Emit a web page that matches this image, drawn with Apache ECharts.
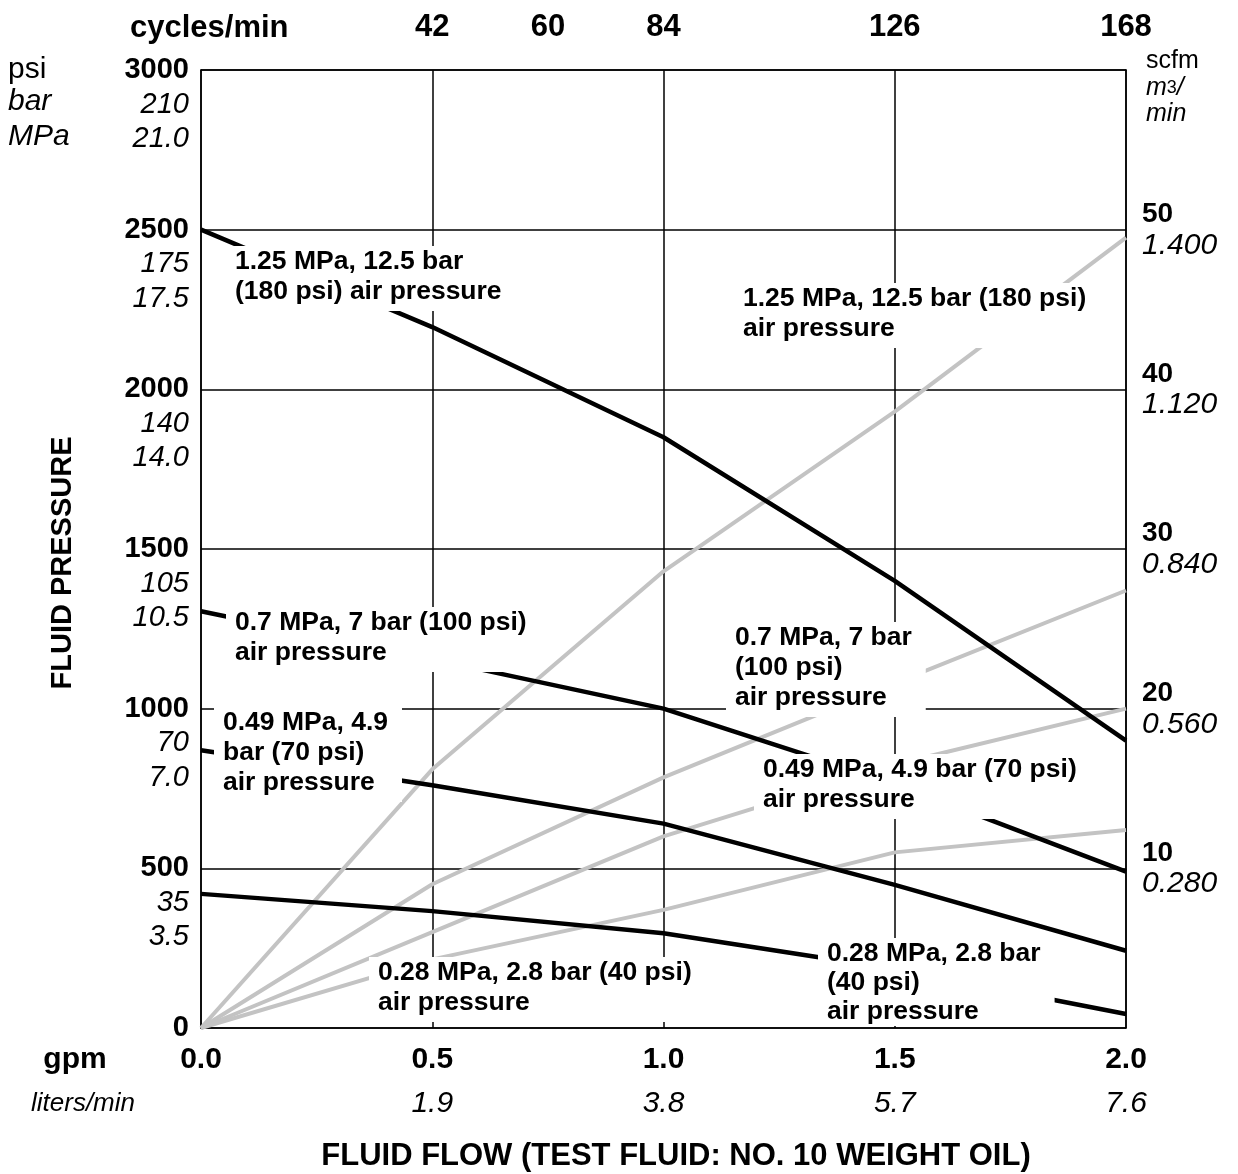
<!DOCTYPE html>
<html>
<head>
<meta charset="utf-8">
<script src="https://cdn.jsdelivr.net/npm/echarts@6/dist/echarts.min.js"></script>
<style>
  html, body { margin: 0; padding: 0; background: #fff; }
  #chart { width: 1238px; height: 1174px; }
</style>
</head>
<body>
<div id="chart"></div>
<script>
// ---------- data ----------
const gpm = [0, 0.5, 1.0, 1.5, 2.0];

// fluid pressure (psi) at each flow, per air pressure
const pressure180 = [2500, 2195, 1850, 1400, 900];
const pressure100 = [1305, 1155, 1000, 765, 490];
const pressure70  = [870, 760, 640, 448, 242];
const pressure40  = [420, 366, 297, 185, 44];

// air consumption (scfm) at each flow, per air pressure
const air180 = [0, 16.2, 28.6, 38.6, 49.5];
const air100 = [0, 9.0, 15.7, 21.6, 27.4];
const air70  = [0, 6.0, 12.0, 16.5, 20.0];
const air40  = [0, 4.3, 7.4, 11.0, 12.4];

// tick labels
const psiTicks   = [0, 500, 1000, 1500, 2000, 2500, 3000];
const barLabels  = ['', '35', '70', '105', '140', '175', '210'];
const mpaLabels  = ['', '3.5', '7.0', '10.5', '14.0', '17.5', '21.0'];
const gpmLabels  = ['0.0', '0.5', '1.0', '1.5', '2.0'];
const litersLabels = ['', '1.9', '3.8', '5.7', '7.6'];
const scfmTicks  = [10, 20, 30, 40, 50];
const m3Labels   = ['0.280', '0.560', '0.840', '1.120', '1.400'];
const cycleTickGpm    = [0.5, 0.75, 1.0, 1.5, 2.0];
const cycleTickLabels = ['42', '60', '84', '126', '168'];

// annotation texts
const annotations = [
  { text: '1.25 MPa, 12.5 bar\n(180 psi) air pressure', x: 235, y: 252 },
  { text: '1.25 MPa, 12.5 bar (180 psi)\nair pressure', x: 743, y: 289 },
  { text: '0.7 MPa, 7 bar (100 psi)\nair pressure', x: 235, y: 613 },
  { text: '0.7 MPa, 7 bar\n(100 psi)\nair pressure', x: 735, y: 628 },
  { text: '0.49 MPa, 4.9\nbar (70 psi)\nair pressure', x: 223, y: 713 },
  { text: '0.49 MPa, 4.9 bar (70 psi)\nair pressure', x: 763, y: 760 },
  { text: '0.28 MPa, 2.8 bar (40 psi)\nair pressure', x: 378, y: 963 },
  { text: '0.28 MPa, 2.8 bar\n(40 psi)\nair pressure', x: 827, y: 946, lh: 29, pb: 0, dy: -2 }
];

// ---------- chart ----------
const FONT = '"Liberation Sans", Arial, Helvetica, sans-serif';
const chart = echarts.init(document.getElementById('chart'), null, { renderer: 'canvas' });

function pair(xs, ys) { return xs.map((x, i) => [x, ys[i]]); }
function idxOf(arr, v) { return arr.findIndex(a => Math.abs(a - v) < 1e-6); }

const gridLine = { show: true, lineStyle: { color: '#000', width: 1.5 } };
const axisLine = { show: true, onZero: false, lineStyle: { color: '#000', width: 1.5 } };

const grayStyle  = { color: '#c3c3c3', width: 4 };
const blackStyle = { color: '#000', width: 4.5 };

function lineSeries(name, data, yIdx, style, z) {
  return {
    name, type: 'line', xAxisIndex: 0, yAxisIndex: yIdx,
    data: pair(gpm, data), symbol: 'none', smooth: false,
    lineStyle: style, z: z, silent: true
  };
}

const graphics = [];
annotations.forEach(a => {
  graphics.push({
    type: 'text', x: a.x - 9, y: a.y - 6 + (a.dy || 0), z: 100,
    style: {
      text: a.text, font: 'bold 26.5px ' + FONT, fill: '#000',
      backgroundColor: '#fff', padding: [1, 14, (a.pb === undefined ? 4 : a.pb), 9],
      lineHeight: a.lh || 30, align: 'left', verticalAlign: 'top'
    }
  });
});
function label(text, x, y, font, align, extra) {
  return Object.assign({
    type: 'text', x: x, y: y, z: 100,
    style: { text: text, font: font, fill: '#000', align: align || 'left', verticalAlign: 'middle' }
  }, extra || {});
}
graphics.push(label('cycles/min', 130, 28, 'bold 31px ' + FONT));
graphics.push(label('psi', 8, 70, '30px ' + FONT));
graphics.push(label('bar', 8, 102, 'italic 30px ' + FONT));
graphics.push(label('MPa', 8, 137, 'italic 30px ' + FONT));
graphics.push(label('scfm', 1146, 61, '25px ' + FONT));
graphics.push({
  type: 'text', x: 1146, y: 88, z: 100,
  style: {
    text: '{i|m}{r|3}{i|/}', verticalAlign: 'middle', align: 'left',
    rich: {
      i: { fontFamily: FONT, fontStyle: 'italic', fontSize: 25, color: '#000' },
      r: { fontFamily: FONT, fontSize: 18, color: '#000' }
    }
  }
});
graphics.push(label('min', 1146, 114, 'italic 25px ' + FONT));
graphics.push(label('gpm', 75, 1060, 'bold 30px ' + FONT, 'center'));
graphics.push(label('liters/min', 83, 1104, 'italic 26px ' + FONT, 'center'));
graphics.push(label('FLUID FLOW (TEST FLUID: NO. 10 WEIGHT OIL)', 676, 1156, 'bold 31px ' + FONT, 'center'));
graphics.push(label('FLUID PRESSURE', 63, 563, 'bold 29px ' + FONT, 'center', { rotation: Math.PI / 2 }));

const option = {
  animation: false,
  backgroundColor: '#fff',
  textStyle: { fontFamily: FONT },
  grid: { left: 201, right: 112, top: 70, bottom: 146, containLabel: false, outerBoundsMode: 'none' },
  xAxis: [
    {
      type: 'value', position: 'bottom', min: 0, max: 2, interval: 0.5,
      axisLine: axisLine, axisTick: { show: false }, splitLine: gridLine,
      axisLabel: {
        margin: 10, showMinLabel: true, showMaxLabel: true, hideOverlap: false,
        formatter: function (v) {
          const i = idxOf(gpm, v);
          if (i < 0) return '';
          return litersLabels[i] ? '{a|' + gpmLabels[i] + '}\n{i|' + litersLabels[i] + '}' : '{a|' + gpmLabels[i] + '}';
        },
        rich: {
          a: { fontFamily: FONT, fontWeight: 'bold', fontSize: 30, lineHeight: 44, color: '#000', align: 'center' },
          i: { fontFamily: FONT, fontStyle: 'italic', fontSize: 30, lineHeight: 44, color: '#000', align: 'center' }
        }
      }
    },
    {
      type: 'value', position: 'top', min: 0, max: 2, interval: 0.25,
      axisLine: axisLine, axisTick: { show: false }, splitLine: { show: false },
      axisLabel: {
        margin: 26, showMinLabel: true, showMaxLabel: true, hideOverlap: false,
        fontFamily: FONT, fontWeight: 'bold', fontSize: 31, color: '#000', lineHeight: 34,
        formatter: function (v) {
          const i = idxOf(cycleTickGpm, v);
          return i < 0 ? '' : cycleTickLabels[i];
        }
      }
    }
  ],
  yAxis: [
    {
      type: 'value', position: 'left', min: 0, max: 3000, interval: 500,
      axisLine: axisLine, axisTick: { show: false }, splitLine: gridLine,
      axisLabel: {
        margin: 12, showMinLabel: true, showMaxLabel: true, hideOverlap: false,
        formatter: function (v) {
          const i = psiTicks.indexOf(v);
          if (i < 0) return '';
          if (!barLabels[i]) return '{a|' + v + '}';
          return '{s| }\n{s| }\n{a|' + v + '}\n{i|' + barLabels[i] + '}\n{i|' + mpaLabels[i] + '}';
        },
        rich: {
          a: { fontFamily: FONT, fontWeight: 'bold', fontSize: 29, lineHeight: 34.5, color: '#000', align: 'right' },
          i: { fontFamily: FONT, fontStyle: 'italic', fontSize: 29, lineHeight: 34.5, color: '#000', align: 'right' },
          s: { fontSize: 10, lineHeight: 34.5, align: 'right' }
        }
      }
    },
    {
      type: 'value', position: 'right', min: 0, max: 60, interval: 10,
      axisLine: axisLine, axisTick: { show: false }, splitLine: { show: false },
      axisLabel: {
        margin: 16, showMinLabel: true, showMaxLabel: true, hideOverlap: false,
        formatter: function (v) {
          const i = scfmTicks.indexOf(v);
          if (i < 0) return '';
          return '{a|' + v + '}\n{i|' + m3Labels[i] + '}';
        },
        rich: {
          a: { fontFamily: FONT, fontWeight: 'bold', fontSize: 28, lineHeight: 31, color: '#000', align: 'left' },
          i: { fontFamily: FONT, fontStyle: 'italic', fontSize: 30, lineHeight: 31, color: '#000', align: 'left' }
        }
      }
    }
  ],
  series: [
    lineSeries('air 180 psi', air180, 1, grayStyle, 3),
    lineSeries('air 100 psi', air100, 1, grayStyle, 3),
    lineSeries('air 70 psi', air70, 1, grayStyle, 3),
    lineSeries('air 40 psi', air40, 1, grayStyle, 3),
    lineSeries('fluid 180 psi', pressure180, 0, blackStyle, 4),
    lineSeries('fluid 100 psi', pressure100, 0, blackStyle, 4),
    lineSeries('fluid 70 psi', pressure70, 0, blackStyle, 4),
    lineSeries('fluid 40 psi', pressure40, 0, blackStyle, 4)
  ],
  graphic: graphics
};
chart.setOption(option);
</script>
</body>
</html>
